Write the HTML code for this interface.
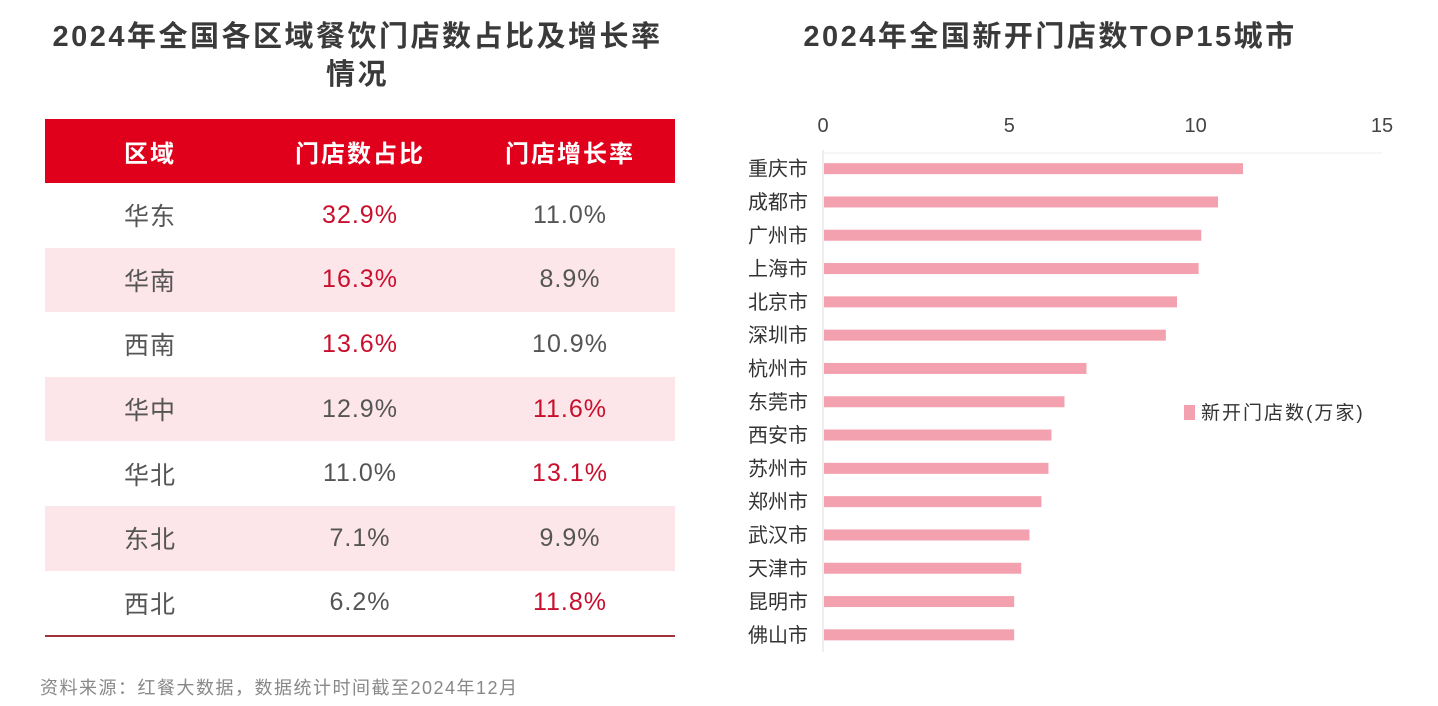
<!DOCTYPE html>
<html><head><meta charset="utf-8">
<style>
body{margin:0;width:1438px;height:706px;background:#fff;position:relative;overflow:hidden;font-family:"Liberation Sans","Noto Sans CJK SC",sans-serif;}
.t{position:absolute;font-weight:bold;color:#3a3a3a;font-size:29px;letter-spacing:2.5px;text-align:center;line-height:38px;}
.tbl{position:absolute;left:45px;top:119px;width:630px;border-bottom:2px solid #a0323c;}
.row{display:flex;height:64.6px;align-items:center;}
.row div{width:210px;text-align:center;font-size:25px;color:#555;letter-spacing:1px;}
.hd{background:#e1001b;height:64px;}
.hd div{color:#fff !important;font-weight:bold;font-size:24px;letter-spacing:2px !important;}
.p{background:#fde6e9;}
.r{color:#c8102e !important;}
</style></head><body>
<div class="t" style="left:10px;top:18px;width:695px;">2024年全国各区域餐饮门店数占比及增长率<br>情况</div>
<div class="t" style="left:750px;top:18px;width:600px;">2024年全国新开门店数TOP15城市</div>
<div class="tbl">
<div class="row hd"><div>区域</div><div>门店数占比</div><div>门店增长率</div></div>
<div class="row"><div>华东</div><div class="r">32.9%</div><div>11.0%</div></div>
<div class="row p"><div>华南</div><div class="r">16.3%</div><div>8.9%</div></div>
<div class="row"><div>西南</div><div class="r">13.6%</div><div>10.9%</div></div>
<div class="row p"><div>华中</div><div>12.9%</div><div class="r">11.6%</div></div>
<div class="row"><div>华北</div><div>11.0%</div><div class="r">13.1%</div></div>
<div class="row p"><div>东北</div><div>7.1%</div><div>9.9%</div></div>
<div class="row"><div>西北</div><div>6.2%</div><div class="r">11.8%</div></div>
</div>
<div style="position:absolute;left:40px;top:674px;font-size:18px;letter-spacing:1.5px;color:#888;">资料来源：红餐大数据，数据统计时间截至2024年12月</div>
<svg id="c" width="1438" height="706" style="position:absolute;left:0;top:0"></svg>
<script>
const cities=["重庆市","成都市","广州市","上海市","北京市","深圳市","杭州市","东莞市","西安市","苏州市","郑州市","武汉市","天津市","昆明市","佛山市"];
const values=[11.27,10.6,10.15,10.08,9.5,9.2,7.07,6.48,6.13,6.05,5.86,5.54,5.32,5.13,5.13];
const ticks=[0,5,10,15];
const NS="http://www.w3.org/2000/svg",svg=document.getElementById('c');
const x0=823,x1=1382,vmax=15,yTop=152,band=33.3;
const X=v=>x0+(x1-x0)*v/vmax, Y=i=>yTop+band*(i+0.5);
function mk(t,a){const e=document.createElementNS(NS,t);for(const k in a)e.setAttribute(k,a[k]);svg.appendChild(e);return e;}
let g=mk('line',{x1:x0,y1:153,x2:x1,y2:153,stroke:'#eee'});


let ax=mk('line',{x1:x0,y1:150,x2:x0,y2:652,stroke:'#ddd'});


ticks.forEach(t=>{const e=mk('text',{x:X(t),y:132,'text-anchor':'middle','font-size':20,fill:'#444','font-family':'Liberation Sans, sans-serif'});e.textContent=t;

});
cities.forEach((c,i)=>{
const l=mk('text',{x:808,y:Y(i)+7,'text-anchor':'end','font-size':20,fill:'#333','font-family':'Liberation Sans, Noto Sans CJK SC, sans-serif'});l.textContent=c;


const b=mk('rect',{x:x0+1,y:Y(i)-5.5,width:X(values[i])-x0-1,height:11,fill:'#f4a1af'});


});
const lg=mk('rect',{x:1184,y:405,width:11,height:15,fill:'#f4a1af'});


const lt=mk('text',{x:1201,y:419,'font-size':19,fill:'#333','letter-spacing':2,'font-family':'Liberation Sans, Noto Sans CJK SC, sans-serif'});lt.textContent='新开门店数(万家)';


</script>
</body></html>
